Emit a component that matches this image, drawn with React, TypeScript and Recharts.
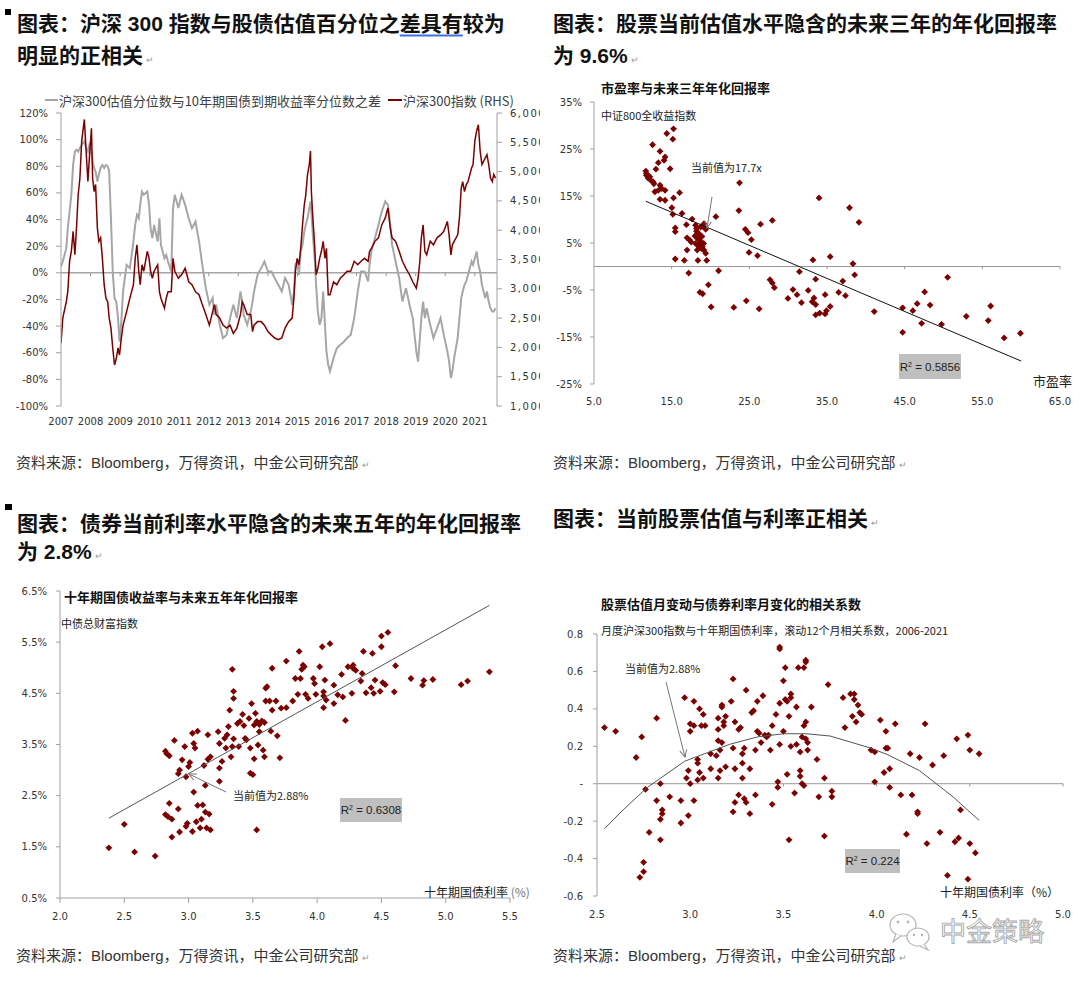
import React from 'react'
import { LineChart, Line, ScatterChart, Scatter, XAxis, YAxis, ReferenceLine } from 'recharts'

const CJK = "'Noto Sans CJK SC', 'DejaVu Sans', sans-serif"
const TITLE_FONT = "'Liberation Sans', 'Noto Sans CJK SC', sans-serif"
const TICK = { fontSize: 10, fill: '#333', fontFamily: "'DejaVu Sans', sans-serif" }
const MAROON = '#7b0000'
const AXIS = '#a0a0a0'

// 图1：沪深300 与 股债估值分位数之差
const tsYears = [
  2007.0, 2007.06, 2007.18, 2007.23, 2007.29, 2007.35, 2007.41, 2007.47, 2007.53, 2007.58,
  2007.64, 2007.7, 2007.79, 2007.85, 2007.91, 2007.96, 2008.03, 2008.07, 2008.12, 2008.17,
  2008.23, 2008.28, 2008.34, 2008.4, 2008.46, 2008.52, 2008.58, 2008.63, 2008.69, 2008.75,
  2008.81, 2008.87, 2008.93, 2008.98, 2009.04, 2009.1, 2009.22, 2009.33, 2009.45, 2009.51,
  2009.57, 2009.63, 2009.68, 2009.74, 2009.8, 2009.92, 2009.98, 2010.03, 2010.09, 2010.15,
  2010.27, 2010.33, 2010.38, 2010.5, 2010.56, 2010.62, 2010.73, 2010.79, 2010.85, 2010.97,
  2011.08, 2011.2, 2011.26, 2011.32, 2011.43, 2011.55, 2011.67, 2011.78, 2011.9, 2012.02,
  2012.13, 2012.19, 2012.25, 2012.37, 2012.48, 2012.6, 2012.72, 2012.83, 2012.95, 2013.07,
  2013.13, 2013.18, 2013.3, 2013.42, 2013.48, 2013.53, 2013.65, 2013.77, 2013.88, 2014.0,
  2014.12, 2014.23, 2014.35, 2014.47, 2014.58, 2014.7, 2014.82, 2014.88, 2014.93, 2014.99,
  2015.05, 2015.11, 2015.17, 2015.23, 2015.28, 2015.34, 2015.4, 2015.44, 2015.47, 2015.52,
  2015.58, 2015.63, 2015.69, 2015.75, 2015.81, 2015.87, 2015.93, 2015.98, 2016.04, 2016.1,
  2016.22, 2016.33, 2016.45, 2016.57, 2016.68, 2016.8, 2016.92, 2017.04, 2017.15, 2017.27,
  2017.39, 2017.44, 2017.5, 2017.62, 2017.74, 2017.85, 2017.97, 2018.06, 2018.14, 2018.2,
  2018.32, 2018.44, 2018.55, 2018.67, 2018.79, 2018.9, 2019.02, 2019.08, 2019.14, 2019.19,
  2019.25, 2019.31, 2019.37, 2019.49, 2019.6, 2019.72, 2019.84, 2019.95, 2020.07, 2020.13,
  2020.19, 2020.24, 2020.3, 2020.42, 2020.48, 2020.54, 2020.59, 2020.65, 2020.71, 2020.77,
  2020.89, 2020.94, 2021.0, 2021.06, 2021.12, 2021.18, 2021.24, 2021.35, 2021.41, 2021.47,
  2021.53, 2021.59, 2021.64, 2021.7,
]
const valuationGap = [
  4.7, 8.5, 18.5, 33.5, 46, 58.6, 81, 91, 92.4, 91,
  93.7, 96, 98.7, 93.7, 91, 96, 91, 83.7, 78.7, 76,
  68.6, 73.6, 78.7, 81, 78.7, 81, 80, 76, 41, 1,
  -19, -21.6, -34, -51.7, -36.6, -14, 6, 3.5, 23.5, 36,
  43.6, 41, 51, 61, 58.6, 61, 51, 33.5, 26, 36,
  23.5, 41, 21, 11, 13.5, 8.5, 1, 48.6, 58.6, 48.6,
  58.6, 51, 46, 41, 33.5, 38.5, 23.5, 6, -11.6, -24,
  -19, -31.6, -24, -39, -49, -46.6, -34, -24, -34, -14,
  -21.6, -31.6, -39, -29, -21.6, -14, -1.5, 3.5, 8.5, 1,
  1, -4, -9, -14, -4, -9, -24, -14, 6, 8.5,
  -1.5, 16, 21, 31, 36, 41, 48.6, 53.6, 46, 28.5,
  11, -9, -29, -39, -34, -14, -39, -59, -69, -74,
  -64, -56.6, -54, -51.7, -49, -46.6, -34, -14, 1, 1,
  -6.5, 6, 16, 26, 36, 46, 53.6, 51, 36, 21,
  8.5, -4, -21.6, -11.6, -24, -34, -59, -66.7, -49, -34,
  -21.6, -34, -26.6, -39, -49, -41.6, -34, -46.6, -59, -66.7,
  -79, -74, -64, -49, -34, -19, -14, -9, -6.5, -1.5,
  8.5, 6, 11, 16, 6, 1, -9, -19, -14, -21.6,
  -26.6, -29, -29, -26.6,
]
const csi300 = [
  2070, 2500, 2780, 2950, 3470, 3640, 3980, 3580, 4090, 4600,
  4890, 5520, 5890, 5350, 4830, 5230, 5740, 4890, 4660, 4780,
  4040, 3810, 3870, 3520, 3070, 2840, 2780, 2500, 2330, 1990,
  1700, 1810, 1990, 1870, 2160, 2380, 2610, 2840, 3070, 3520,
  3750, 3300, 3070, 3410, 3300, 3640, 3520, 3300, 3180, 3300,
  3410, 2950, 2840, 2670, 2840, 2950, 2950, 3520, 3300, 3180,
  3240, 3350, 3240, 3120, 3070, 2950, 2900, 2730, 2560, 2380,
  2610, 2730, 2560, 2500, 2380, 2330, 2380, 2240, 2330, 2560,
  2780, 2730, 2560, 2560, 2270, 2380, 2440, 2440, 2380, 2270,
  2210, 2160, 2130, 2160, 2330, 2440, 2500, 2840, 3300, 3520,
  3410, 3690, 4090, 4430, 4600, 4950, 5120, 5350, 4660, 4210,
  3750, 3240, 3350, 3520, 3640, 3810, 3520, 3690, 2900, 2900,
  3120, 3070, 3180, 3240, 3300, 3300, 3470, 3410, 3470, 3520,
  3470, 3640, 3690, 3810, 3870, 4090, 4210, 4380, 4040, 3870,
  3810, 3640, 3470, 3350, 3240, 3120, 3010, 3180, 3470, 3870,
  4090, 3640, 3580, 3810, 3750, 3870, 3920, 3980, 4150, 3920,
  3580, 3750, 3810, 3920, 4210, 4720, 4830, 4660, 4780, 4830,
  5060, 5120, 5520, 5690, 5800, 5350, 5120, 5230, 5290, 5120,
  4890, 4830, 4950, 4890,
]
const yearTicks = [2007, 2008, 2009, 2010, 2011, 2012, 2013, 2014, 2015, 2016, 2017, 2018, 2019, 2020, 2021]
const gapTicks = [-100, -80, -60, -40, -20, 0, 20, 40, 60, 80, 100, 120]
const idxTicks = [1000, 1500, 2000, 2500, 3000, 3500, 4000, 4500, 5000, 5500, 6000]

// 图2：市盈率 vs 未来三年年化回报
const pePoints: [number, number][] = [
  [15.24, 29.3], [14.37, 28.3], [15.15, 27.1], [12.54, 25.9], [13.5, 24.5], [14.15, 23.3], [14.02, 22.6],
  [13.28, 22.1], [14.8, 20.8], [12.97, 20.7], [11.67, 20.3], [11.75, 19.8], [11.75, 19.4], [12.19, 19.1],
  [11.97, 18.8], [12.28, 18.4], [12.63, 18.0], [12.71, 17.6], [13.5, 17.3], [13.71, 16.6], [13.28, 16.2],
  [14.15, 16.2], [12.84, 15.9], [13.5, 14.3], [14.15, 14.1], [15.24, 14.6], [16.02, 15.7], [15.02, 12.5],
  [15.15, 11.1], [16.33, 11.3], [17.64, 10.1], [16.9, 8.9], [15.46, 8.2], [15.46, 7.4], [18.07, 8.8],
  [18.2, 8.1], [18.73, 8.4], [19.16, 9.1], [19.38, 7.9], [18.51, 7.0], [18.29, 6.0], [18.73, 5.2],
  [18.07, 4.9], [18.51, 4.2], [18.94, 4.2], [18.29, 3.5], [19.16, 3.5], [16.98, 6.1], [17.33, 5.6],
  [17.51, 5.2], [16.98, 3.5], [19.38, 2.8], [18.85, 3.8], [19.12, 4.9], [18.4, 4.5], [18.6, 5.6],
  [18.9, 6.4], [18.2, 7.5], [18.0, 6.5], [19.0, 8.6], [20.69, 10.6], [15.46, 1.6], [16.63, 1.3],
  [18.38, 1.3], [19.51, 1.3], [17.2, -1.4], [21.04, -0.9], [19.73, -3.9], [18.64, -5.5], [18.99, -5.8],
  [20.08, -8.6], [23.0, -8.7], [24.61, -7.3], [23.74, 17.8], [23.65, 11.9], [24.48, 7.9], [24.83, 7.2],
  [25.26, 5.7], [24.96, 3.0], [26.05, 2.3], [26.44, 9.0], [27.96, 9.8], [26.26, -9.0], [27.66, -2.8],
  [27.96, -3.5], [28.22, -4.5], [29.97, -6.8], [30.62, -4.9], [31.14, -6.0], [31.71, -7.7], [31.45, -1.1],
  [32.58, -5.1], [33.19, 1.4], [33.98, 14.6], [33.54, -2.7], [33.32, -6.7], [33.1, -7.5], [33.54, -8.1],
  [33.54, -10.3], [34.06, -9.9], [34.76, -10.1], [34.93, -9.4], [35.41, -8.5], [34.76, -6.0], [35.41, 2.1],
  [36.5, -5.5], [37.03, -3.1], [37.38, -6.2], [37.9, 12.5], [38.34, 0.6], [38.56, -1.8], [39.12, 9.4],
  [41.08, -9.6], [44.74, -8.8], [44.74, -14.0], [46.05, -9.4], [46.61, -7.9], [47.18, -12.1], [47.57, -5.4],
  [48.27, -8.2], [49.75, -12.3], [50.53, -2.3], [52.93, -10.6], [55.76, -11.5], [56.07, -8.4], [57.81, -15.2],
  [59.9, -14.2],
]
const peTrend: [number, number][] = [[11.67, 13.88], [60.0, -20.12]]
const peXTicks = [5, 15, 25, 35, 45, 55, 65]
const peYTicks = [-25, -15, -5, 5, 15, 25, 35]

// 图3：十年国债收益率 vs 未来五年年化回报
const bondPoints: [number, number][] = [
  [2.38, 1.48], [2.5, 1.94], [2.58, 1.4], [2.74, 1.32], [2.82, 2.13], [2.84, 2.09], [2.85, 2.35], [2.87, 2.04],
  [2.87, 1.69], [2.92, 2.24], [2.93, 1.79], [2.82, 3.37], [2.83, 3.32], [2.85, 3.28], [2.89, 3.58], [2.92, 2.93],
  [2.93, 3.0], [2.95, 3.2], [2.97, 3.46], [2.98, 2.87], [2.98, 1.9], [2.99, 1.96], [3.0, 3.07], [3.01, 3.15],
  [3.03, 3.72], [3.04, 3.52], [3.05, 3.43], [3.07, 3.76], [3.04, 2.57], [3.03, 1.8], [3.06, 1.99], [3.07, 2.31],
  [3.09, 1.87], [3.1, 2.04], [3.11, 2.32], [3.12, 3.09], [3.13, 2.7], [3.13, 2.18], [3.14, 1.87], [3.15, 3.69],
  [3.16, 2.14], [3.17, 3.26], [3.17, 1.83], [3.15, 3.21], [3.23, 3.75], [3.24, 3.04], [3.24, 2.78], [3.24, 3.52],
  [3.26, 3.17], [3.28, 3.62], [3.29, 3.43], [3.3, 3.69], [3.31, 3.85], [3.32, 4.17], [3.33, 3.26], [3.34, 3.46],
  [3.34, 4.97], [3.35, 4.54], [3.35, 4.4], [3.35, 3.61], [3.38, 3.91], [3.39, 3.46], [3.4, 3.95], [3.42, 4.09],
  [3.43, 3.87], [3.44, 3.62], [3.45, 3.59], [3.47, 4.01], [3.48, 3.43], [3.48, 2.94], [3.5, 2.91], [3.49, 4.3],
  [3.51, 3.88], [3.51, 3.22], [3.52, 4.11], [3.53, 1.83], [3.53, 3.95], [3.54, 3.49], [3.55, 3.75], [3.55, 3.89],
  [3.57, 3.96], [3.58, 3.39], [3.59, 3.93], [3.59, 3.26], [3.6, 4.6], [3.6, 4.35], [3.61, 4.63], [3.63, 4.35],
  [3.64, 3.76], [3.65, 4.99], [3.65, 4.17], [3.68, 4.35], [3.69, 3.67], [3.71, 3.24], [3.72, 4.21], [3.76, 4.22],
  [3.76, 5.13], [3.81, 4.35], [3.83, 4.79], [3.85, 4.48], [3.86, 5.32], [3.87, 4.79], [3.88, 4.97], [3.89, 5.05],
  [3.9, 5.02], [3.91, 4.48], [3.93, 4.4], [3.97, 4.79], [3.98, 4.69], [3.99, 4.48], [4.02, 5.02], [4.04, 5.41],
  [4.05, 4.53], [4.05, 4.22], [4.05, 4.45], [4.06, 4.76], [4.07, 4.37], [4.1, 5.47], [4.13, 4.66], [4.13, 4.3],
  [4.16, 4.47], [4.19, 4.87], [4.2, 4.43], [4.22, 3.97], [4.24, 5.02], [4.27, 4.5], [4.28, 5.05], [4.28, 4.99],
  [4.3, 4.95], [4.34, 4.74], [4.35, 4.89], [4.36, 5.32], [4.38, 4.51], [4.42, 4.61], [4.43, 5.28], [4.44, 4.5],
  [4.45, 4.76], [4.49, 4.54], [4.5, 5.41], [4.5, 5.62], [4.51, 4.71], [4.53, 4.67], [4.55, 5.69], [4.6, 4.53],
  [4.61, 5.04], [4.73, 4.79], [4.82, 4.66], [4.83, 4.75], [4.9, 4.77], [5.12, 4.67], [5.17, 4.74], [5.34, 4.92],
]
const bondTrend: [number, number][] = [[2.38, 2.06], [5.34, 6.22]]
const bondXTicks = [2, 2.5, 3, 3.5, 4, 4.5, 5, 5.5]
const bondYTicks = [0.5, 1.5, 2.5, 3.5, 4.5, 5.5, 6.5]

// 图4：滚动12个月相关系数 vs 十年国债利率
const corrPoints: [number, number][] = [
  [2.54, 0.3], [2.6, 0.28], [2.71, 0.14], [2.74, 0.25], [2.75, -0.42], [2.75, -0.47], [2.73, -0.5], [2.76, -0.03],
  [2.78, -0.26], [2.82, 0.35], [2.82, -0.09], [2.84, 0.0], [2.84, -0.19], [2.85, -0.16], [2.85, -0.14], [2.84, -0.3],
  [2.89, -0.07], [2.95, -0.09], [2.95, -0.21], [2.97, 0.46], [2.98, 0.03], [2.99, -0.17], [2.99, 0.07], [3.0, 0.28],
  [3.0, 0.32], [3.0, 0.0], [3.02, -0.09], [3.02, 0.44], [3.02, 0.31], [3.04, 0.11], [3.04, 0.02], [3.04, 0.13],
  [3.05, 0.4], [3.05, 0.06], [3.06, 0.31], [3.07, 0.37], [3.07, 0.03], [3.08, 0.31], [3.11, 0.08], [3.11, 0.16],
  [3.14, 0.15], [3.15, 0.35], [3.15, 0.23], [3.15, 0.03], [3.15, 0.29], [3.16, 0.18], [3.16, 0.07], [3.17, 0.42],
  [3.17, 0.41], [3.17, 0.22], [3.18, 0.33], [3.18, 0.31], [3.19, 0.36], [3.19, 0.09], [3.22, 0.44], [3.23, 0.19],
  [3.23, 0.56], [3.24, 0.08], [3.23, -0.15], [3.24, -0.1], [3.24, 0.33], [3.26, 0.29], [3.26, -0.06], [3.27, 0.3],
  [3.28, 0.11], [3.28, 0.16], [3.29, 0.19], [3.28, 0.03], [3.29, -0.08], [3.3, 0.5], [3.3, -0.1], [3.32, -0.16],
  [3.32, 0.08], [3.33, 0.38], [3.34, 0.39], [3.35, -0.06], [3.35, 0.18], [3.36, 0.44], [3.36, 0.28], [3.37, 0.27],
  [3.38, 0.22], [3.39, 0.47], [3.4, 0.26], [3.41, 0.25], [3.42, 0.26], [3.43, 0.18], [3.44, -0.11], [3.44, 0.31],
  [3.46, 0.37], [3.47, -0.02], [3.47, 0.01], [3.48, 0.73], [3.48, 0.72], [3.48, 0.21], [3.48, 0.43], [3.5, 0.55],
  [3.5, 0.28], [3.51, 0.45], [3.51, 0.62], [3.52, 0.44], [3.52, 0.05], [3.53, -0.3], [3.53, 0.36], [3.54, 0.48],
  [3.54, 0.46], [3.54, 0.2], [3.56, -0.05], [3.57, 0.41], [3.57, 0.21], [3.58, 0.62], [3.59, 0.07], [3.59, 0.04],
  [3.59, 0.17], [3.6, 0.0], [3.6, 0.25], [3.61, 0.62], [3.61, 0.31], [3.62, 0.33], [3.62, 0.66], [3.62, 0.65],
  [3.62, 0.24], [3.63, 0.22], [3.63, 0.18], [3.65, 0.41], [3.61, -0.01], [3.68, 0.13], [3.69, -0.07], [3.72, 0.03],
  [3.72, -0.28], [3.74, 0.53], [3.76, -0.04], [3.76, -0.07], [3.82, 0.46], [3.83, 0.3], [3.86, 0.48], [3.88, 0.48],
  [3.88, 0.45], [3.87, 0.36], [3.89, 0.33], [3.9, 0.42], [3.91, 0.38], [3.92, 0.37], [3.97, 0.18], [3.99, 0.01],
  [3.99, 0.17], [4.02, 0.34], [4.04, 0.06], [4.05, 0.28], [4.05, 0.19], [4.06, 0.19], [4.07, 0.08], [4.07, -0.02],
  [4.1, 0.32], [4.13, -0.06], [4.16, -0.27], [4.18, 0.16], [4.19, -0.06], [4.22, -0.15], [4.22, -0.16], [4.23, 0.14],
  [4.26, 0.32], [4.27, -0.32], [4.3, 0.1], [4.34, -0.26], [4.36, 0.15], [4.38, -0.49], [4.42, -0.31], [4.43, 0.24],
  [4.44, -0.29], [4.45, -0.14], [4.49, 0.26], [4.5, 0.18], [4.49, -0.51], [4.5, -0.32], [4.53, -0.37], [4.55, 0.16],
]
// 二次趋势线（从图上读取的点）
const corrCurve: [number, number][] = [
  [2.54, -0.24], [2.64, -0.14], [2.77, -0.02], [2.97, 0.12], [3.09, 0.165], [3.21, 0.21], [3.36, 0.25],
  [3.5, 0.267], [3.62, 0.267], [3.75, 0.255], [3.97, 0.19], [4.06, 0.155], [4.23, 0.07], [4.32, 0.0],
  [4.41, -0.07], [4.55, -0.196],
]
const corrXTicks = [2.5, 3, 3.5, 4, 4.5, 5]
const corrYTicks = [-0.6, -0.4, -0.2, 0, 0.2, 0.4, 0.6, 0.8]

const toRows = (pts: [number, number][]) => pts.map(([x, y]) => ({ x, y }))
const tsRows = tsYears.map((year, i) => ({ year, gap: valuationGap[i], csi: csi300[i] }))

const Diamond = (p: any) => {
  const { cx, cy } = p
  const r = 3.4
  return <path d={`M${cx},${cy - r}L${cx + r},${cy}L${cx},${cy + r}L${cx - r},${cy}Z`} fill={MAROON} />
}
const NoDot = () => <g />

// small tick marks that hang below a zero line
const zeroTicks = (ticks: number[], drop: number, yAxisId?: string) =>
  ticks.map((t) => (
    <ReferenceLine
      key={`zt-${t}`}
      yAxisId={yAxisId}
      segment={[{ x: t, y: 0 }, { x: t, y: -drop }]}
      stroke="#999"
      ifOverflow="visible"
    />
  ))

function Txt({ x, y, size = 11, bold = false, color = '#222', family = CJK, children }: any) {
  return (
    <div
      style={{
        position: 'absolute', left: x, top: y, transform: 'translateY(-50%)', fontSize: size,
        fontWeight: bold ? 700 : 400, color, whiteSpace: 'nowrap', lineHeight: 1, fontFamily: family,
      }}
    >
      {children}
    </div>
  )
}

const Ret = () => <span style={{ fontSize: 9, color: '#999', fontWeight: 400, marginLeft: 3 }}>↵</span>

function RBox({ x, y, w, h, value }: any) {
  return (
    <div
      style={{
        position: 'absolute', left: x, top: y, width: w, height: h, background: '#bfbfbf', display: 'flex',
        alignItems: 'center', justifyContent: 'center', fontSize: 11.5, color: '#222', whiteSpace: 'nowrap',
        fontFamily: "'Liberation Sans', sans-serif",
      }}
    >
      <span>R<sup style={{ fontSize: 7, verticalAlign: 'top', lineHeight: 1 }}>2</sup> = {value}</span>
    </div>
  )
}

function Source({ x, y }: any) {
  return (
    <Txt x={x} y={y} size={15} color="#333" family={TITLE_FONT}>
      资料来源：Bloomberg，万得资讯，中金公司研究部<Ret />
    </Txt>
  )
}

function Title({ x, y, children }: any) {
  return (
    <Txt x={x} y={y} size={21} bold color="#111" family={TITLE_FONT}>
      {children}
    </Txt>
  )
}

export default function App() {
  return (
    <div style={{ position: 'absolute', left: 0, top: 0, width: 1080, height: 981, background: '#fff', fontFamily: CJK }}>
      {/* 标题 */}
      <div style={{ position: 'absolute', left: 5, top: 9, width: 6, height: 6, background: '#000' }} />
      <Title x={17} y={23}>
        图表：沪深 300 指数与股债估值百分位之
        <span style={{ textDecoration: 'underline', textDecorationColor: '#3b73d9', textUnderlineOffset: 4 }}>差具有</span>
        较为
      </Title>
      <Title x={17} y={55}>明显的正相关<Ret /></Title>
      <Title x={553} y={23}>图表：股票当前估值水平隐含的未来三年的年化回报率</Title>
      <Title x={553} y={55}>为 9.6%<Ret /></Title>
      <div style={{ position: 'absolute', left: 5, top: 504, width: 7, height: 6, background: '#000' }} />
      <Title x={17} y={523}>图表：债券当前利率水平隐含的未来五年的年化回报率</Title>
      <Title x={17} y={551}>为 2.8%<Ret /></Title>
      <Title x={553} y={518}>图表：当前股票估值与利率正相关<Ret /></Title>

      {/* 图1 */}
      <div style={{ position: 'absolute', left: 0, top: 90, width: 540, height: 346, overflow: 'hidden' }}>
        <LineChart width={540} height={346} data={tsRows} margin={{ top: 23, right: 0, bottom: 0, left: 0 }}>
          <XAxis
            type="number" dataKey="year" domain={[2007, 2021.75]} ticks={yearTicks} interval={0}
            axisLine={false} tickLine={false} tick={TICK} tickMargin={6} height={30} allowDataOverflow
          />
          <YAxis
            yAxisId="left" domain={[-100, 120]} ticks={gapTicks} interval={0} width={61}
            tickFormatter={(v: number) => `${v}%`} axisLine={{ stroke: AXIS }} tickLine={{ stroke: AXIS }}
            tickSize={5} tickMargin={8} tick={TICK}
          />
          <YAxis
            yAxisId="right" orientation="right" domain={[1000, 6000]} ticks={idxTicks} interval={0} width={43}
            tickFormatter={(v: number) => v.toLocaleString('en-US')} axisLine={{ stroke: AXIS }}
            tickLine={{ stroke: AXIS }} tickSize={5} tickMargin={8} tick={{ ...TICK, letterSpacing: 1.5 }}
          />
          <ReferenceLine yAxisId="left" y={0} stroke="#a6a6a6" strokeWidth={1.5} />
          {zeroTicks(yearTicks.slice(1), 2.5, 'left')}
          <Line yAxisId="left" dataKey="gap" stroke="#a6a6a6" strokeWidth={2} dot={false} isAnimationActive={false} />
          <Line yAxisId="right" dataKey="csi" stroke={MAROON} strokeWidth={1.5} dot={false} isAnimationActive={false} />
        </LineChart>
      </div>
      <div style={{ position: 'absolute', left: 45, top: 99, width: 13, height: 2, background: '#a6a6a6' }} />
      <Txt x={59} y={100} size={13} color="#404040">沪深300估值分位数与10年期国债到期收益率分位数之差</Txt>
      <div style={{ position: 'absolute', left: 388, top: 99, width: 14, height: 2, background: MAROON }} />
      <Txt x={403} y={100} size={13} color="#404040">沪深300指数 (RHS)</Txt>
      <Source x={16} y={462} />

      {/* 图2 */}
      <div style={{ position: 'absolute', left: 545, top: 75 }}>
        <ScatterChart width={535} height={339} margin={{ top: 27, right: 20, bottom: 0, left: 0 }}>
          <XAxis
            type="number" dataKey="x" domain={[5, 65]} ticks={peXTicks} interval={0}
            tickFormatter={(v: number) => v.toFixed(1)} axisLine={false} tickLine={false} tick={TICK}
            tickMargin={8} height={30}
          />
          <YAxis
            type="number" dataKey="y" domain={[-25, 35]} ticks={peYTicks} interval={0} width={49}
            tickFormatter={(v: number) => `${v}%`} axisLine={{ stroke: AXIS }} tickLine={{ stroke: AXIS }}
            tickSize={4} tickMargin={8} tick={TICK}
          />
          <ReferenceLine y={0} stroke="#999" />
          {zeroTicks(peXTicks.slice(1), 0.6)}
          <Scatter data={toRows(pePoints)} shape={Diamond} isAnimationActive={false} />
          <Scatter data={toRows(peTrend)} line={{ stroke: '#111', strokeWidth: 1 }} shape={NoDot} isAnimationActive={false} />
        </ScatterChart>
      </div>
      <Txt x={601} y={87} size={13} bold color="#111">市盈率与未来三年年化回报率</Txt>
      <Txt x={601} y={115}>中证800全收益指数</Txt>
      <Txt x={691} y={167}>当前值为17.7x</Txt>
      <RBox x={899} y={354} w={62} h={25} value="0.5856" />
      <Txt x={1033} y={380} size={13}>市盈率</Txt>
      <Source x={553} y={462} />

      {/* 图3 */}
      <div style={{ position: 'absolute', left: 0, top: 575 }}>
        <ScatterChart width={535} height={355} margin={{ top: 16, right: 25, bottom: 0, left: 0 }}>
          <XAxis
            type="number" dataKey="x" domain={[2, 5.5]} ticks={bondXTicks} interval={0}
            tickFormatter={(v: number) => v.toFixed(1)} axisLine={{ stroke: AXIS }} tickLine={{ stroke: AXIS }}
            tickSize={5} tickMargin={10} tick={TICK} height={32}
          />
          <YAxis
            type="number" dataKey="y" domain={[0.5, 6.5]} ticks={bondYTicks} interval={0} width={60}
            tickFormatter={(v: number) => `${v.toFixed(1)}%`} axisLine={{ stroke: AXIS }} tickLine={{ stroke: AXIS }}
            tickSize={4} tickMargin={9} tick={TICK}
          />
          <Scatter data={toRows(bondPoints)} shape={Diamond} isAnimationActive={false} />
          <Scatter data={toRows(bondTrend)} line={{ stroke: '#555', strokeWidth: 1 }} shape={NoDot} isAnimationActive={false} />
        </ScatterChart>
      </div>
      <Txt x={64} y={596} size={13} bold color="#111">十年期国债收益率与未来五年年化回报率</Txt>
      <Txt x={61} y={623}>中债总财富指数</Txt>
      <Txt x={233} y={795}>当前值为2.88%</Txt>
      <RBox x={340} y={798} w={62} h={24} value="0.6308" />
      <Txt x={424} y={892} size={12}>十年期国债利率 <span style={{ color: '#777' }}>(%)</span></Txt>
      <Source x={16} y={955} />

      {/* 图4 */}
      <div style={{ position: 'absolute', left: 545, top: 580 }}>
        <ScatterChart width={535} height={346} margin={{ top: 54, right: 17, bottom: 0, left: 0 }}>
          <XAxis
            type="number" dataKey="x" domain={[2.5, 5]} ticks={corrXTicks} interval={0}
            tickFormatter={(v: number) => v.toFixed(1)} axisLine={false} tickLine={false} tick={TICK}
            tickSize={5} tickMargin={10} height={30}
          />
          <YAxis
            type="number" dataKey="y" domain={[-0.6, 0.8]} ticks={corrYTicks} interval={0} width={52}
            tickFormatter={(v: number) => (Math.abs(v) < 1e-9 ? '-' : v.toFixed(1))} axisLine={{ stroke: AXIS }}
            tickLine={{ stroke: AXIS }} tickSize={4} tickMargin={10} tick={TICK}
          />
          <ReferenceLine y={0} stroke="#999" />
          {zeroTicks(corrXTicks.slice(1), 0.015)}
          <Scatter data={toRows(corrPoints)} shape={Diamond} isAnimationActive={false} />
          <Scatter data={toRows(corrCurve)} line={{ stroke: '#555', strokeWidth: 1 }} shape={NoDot} isAnimationActive={false} />
        </ScatterChart>
      </div>
      <Txt x={601} y={603} size={13} bold color="#111">股票估值月变动与债券利率月变化的相关系数</Txt>
      <Txt x={601} y={630}>月度沪深300指数与十年期国债利率，滚动12个月相关系数，2006-2021</Txt>
      <Txt x={625} y={668}>当前值为2.88%</Txt>
      <RBox x={845} y={849} w={55} h={24} value="0.224" />
      <Txt x={940} y={892} size={12}>十年期国债利率（%）</Txt>
      <Source x={553} y={955} />

      {/* 箭头与水印 */}
      <svg width={1080} height={981} style={{ position: 'absolute', left: 0, top: 0, pointerEvents: 'none' }}>
        <defs>
          <marker id="arr" markerWidth="8" markerHeight="8" refX="7" refY="4" orient="auto" markerUnits="userSpaceOnUse">
            <path d="M0,0.5 L7,4 L0,7.5" fill="none" stroke="#777" strokeWidth="1" />
          </marker>
        </defs>
        <line x1={712} y1={197} x2={707} y2={228} stroke="#777" strokeWidth={1} markerEnd="url(#arr)" />
        <line x1={226} y1={792} x2={189} y2={774} stroke="#777" strokeWidth={1} markerEnd="url(#arr)" />
        <line x1={666} y1={682} x2={685} y2={757} stroke="#777" strokeWidth={1} markerEnd="url(#arr)" />
        <g stroke="#b5b5b5" strokeWidth={1.2} fill="#fff">
          <ellipse cx={903} cy={925} rx={13} ry={11} />
          <path d="M896,934 L893,942 L901,936" />
          <ellipse cx={918} cy={937} rx={11} ry={9} />
          <path d="M924,944 L928,950 L920,946" />
        </g>
        <g fill="#b5b5b5">
          <circle cx={898} cy={922} r={1.4} />
          <circle cx={908} cy={922} r={1.4} />
          <circle cx={914} cy={935} r={1.2} />
          <circle cx={922} cy={935} r={1.2} />
        </g>
        <text x={940} y={941} fontSize={26} fill="#fff" stroke="#a8a8a8" strokeWidth={0.9} fontFamily={CJK}>中金策略</text>
      </svg>
    </div>
  )
}
